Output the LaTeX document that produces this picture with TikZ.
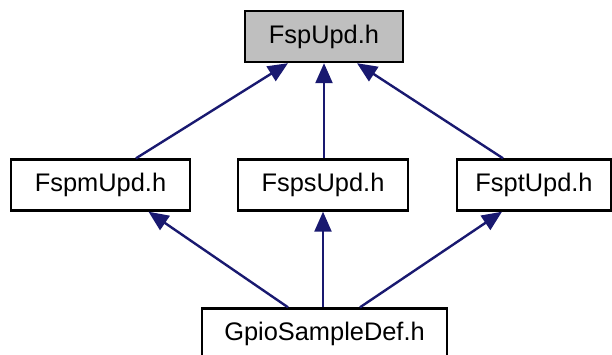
\documentclass[tikz,border=0pt]{standalone}
\usepackage{fontspec}
\setmainfont{Liberation Sans}
\usetikzlibrary{arrows.meta}
\definecolor{edgeblue}{HTML}{191970}
\definecolor{boxgray}{HTML}{BFBFBF}
\begin{document}
\begin{tikzpicture}[x=1pt,y=-1pt,
  box/.style={draw=black,line width=2.4pt,fill=white,rectangle,inner sep=0pt,
    font=\fontsize{25.4}{30}\selectfont,minimum height=51pt},
  dep/.style={draw=edgeblue,line width=2.4pt,
    -{Triangle[length=20pt,width=17pt]}}]
\useasboundingbox (0,0) rectangle (612,354);
\node[box,fill=boxgray,minimum width=158pt] (top) at (324,36.5) {FspUpd.h};
\node[box,minimum width=179pt] (m) at (100.5,185) {FspmUpd.h};
\node[box,minimum width=170pt] (s) at (323,185) {FspsUpd.h};
\node[box,minimum width=154pt] (t) at (534,185) {FsptUpd.h};
\node[box,minimum width=245pt] (g) at (324.5,334) {GpioSampleDef.h};
\draw[dep] ([xshift=35.5pt]m.north) -- ([xshift=-36pt]top.south);
\draw[dep] ([xshift=1pt]s.north) -- (top.south);
\draw[dep] ([xshift=-31pt]t.north) -- ([xshift=33pt]top.south);
\draw[dep] ([xshift=-36.5pt]g.north) -- ([xshift=48pt]m.south);
\draw[dep] ([xshift=-1.5pt]g.north) -- (s.south);
\draw[dep] ([xshift=35.5pt]g.north) -- ([xshift=-32pt]t.south);
\end{tikzpicture}
\end{document}
